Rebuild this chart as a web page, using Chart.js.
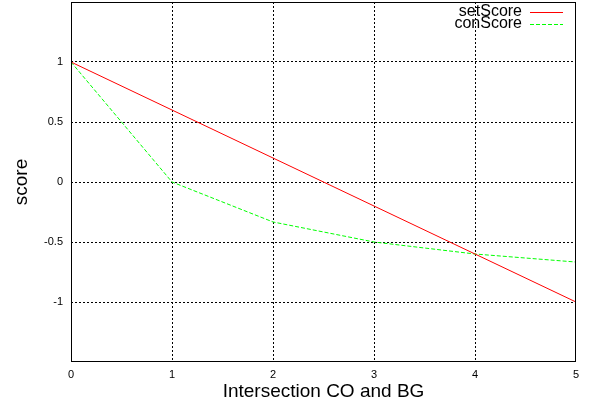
<!DOCTYPE html>
<html>
<head>
<meta charset="utf-8">
<script src="https://cdn.jsdelivr.net/npm/chart.js@4/dist/chart.umd.min.js"></script>
<style>
  html, body { margin: 0; padding: 0; background: #fff; }
  #wrap { width: 596px; height: 403px; position: relative; }
</style>
</head>
<body>
<div id="wrap"><canvas id="chart"></canvas></div>
<script>
const xValues = [0, 1, 2, 3, 4, 5];
const setScore = [1, 0.6, 0.2, -0.2, -0.6, -1];
const conScore = [1, 0, -0.333, -0.5, -0.6, -0.667];
const yTickLabels = ['-1', '-0.5', '0', '0.5', '1'];

const FONT = "'Liberation Sans', Arial, sans-serif";

const legendPlugin = {
  id: 'gnuLegend',
  afterDatasetsDraw(chart) {
    const ctx = chart.ctx;
    const area = chart.chartArea;
    ctx.save();
    ctx.font = '16px ' + FONT;
    ctx.textAlign = 'right';
    ctx.textBaseline = 'middle';
    chart.data.datasets.forEach((ds, i) => {
      const y = area.top + 10 + i * 12;
      ctx.fillStyle = '#000';
      ctx.fillText(ds.label, area.right - 54, y);
      ctx.strokeStyle = ds.borderColor;
      ctx.lineWidth = 1;
      ctx.setLineDash(ds.borderDash || []);
      ctx.beginPath();
      ctx.moveTo(area.right - 46, y + 0.5);
      ctx.lineTo(area.right - 13, y + 0.5);
      ctx.stroke();
    });
    ctx.restore();
  },
};

const framePlugin = {
  id: 'frame',
  afterDraw(chart) {
    const { ctx, chartArea: a } = chart;
    ctx.save();
    ctx.strokeStyle = '#000';
    ctx.lineWidth = 1;
    ctx.setLineDash([]);
    ctx.strokeRect(a.left + 0.5, a.top + 0.5, a.right - a.left - 1, a.bottom - a.top - 1);
    ctx.restore();
  },
};

const edgeHidden = (ctx, color) => {
  const v = ctx.tick ? ctx.tick.value : null;
  return v === -1.5 || v === 1.5 || v === 0 && ctx.scale.axis === 'x' || v === 5 ? 'rgba(0,0,0,0)' : color;
};

new Chart(document.getElementById('chart').getContext('2d'), {
  type: 'line',
  data: {
    labels: xValues,
    datasets: [
      {
        label: 'setScore',
        data: xValues.map((x, i) => ({ x, y: setScore[i] })),
        borderColor: '#ff0000',
        borderWidth: 1,
        pointRadius: 0,
        tension: 0,
        fill: false,
      },
      {
        label: 'conScore',
        data: xValues.map((x, i) => ({ x, y: conScore[i] })),
        borderColor: '#00ff00',
        borderWidth: 1,
        borderDash: [4, 2],
        pointRadius: 0,
        tension: 0,
        fill: false,
      },
    ],
  },
  options: {
    responsive: true,
    maintainAspectRatio: false,
    animation: false,
    layout: { padding: { top: 2, right: 20, left: 0, bottom: 0 } },
    plugins: {
      legend: { display: false },
      tooltip: { enabled: false },
    },
    scales: {
      x: {
        type: 'linear',
        min: 0,
        max: 5,
        ticks: {
          stepSize: 1,
          color: '#000',
          font: { family: FONT, size: 11 },
          padding: 6,
          maxRotation: 0,
        },
        grid: {
          color: (ctx) => edgeHidden(ctx, '#000'),
          lineWidth: 1,
          drawTicks: false,
        },
        border: { display: false, dash: [2, 2] },
        title: {
          display: true,
          text: 'Intersection CO and BG',
          color: '#000',
          font: { family: FONT, size: 19 },
          padding: { top: 0, bottom: 0 },
        },
        afterFit(scale) {
          scale.height = 41;
          scale.paddingLeft = 0;
          scale.paddingRight = 0;
        },
      },
      y: {
        min: -1.5,
        max: 1.5,
        ticks: {
          stepSize: 0.5,
          color: '#000',
          font: { family: FONT, size: 11 },
          padding: 8,
          callback: (v) => {
            const s = String(v);
            return yTickLabels.includes(s) ? s : '';
          },
        },
        grid: {
          color: (ctx) => edgeHidden(ctx, '#000'),
          lineWidth: 1,
          drawTicks: false,
        },
        border: { display: false, dash: [2, 2] },
        title: {
          display: true,
          text: 'score',
          color: '#000',
          font: { family: FONT, size: 19 },
          padding: { top: 10, bottom: 0 },
        },
        afterFit(scale) {
          scale.width = 71;
          scale.paddingTop = 0;
          scale.paddingBottom = 0;
        },
      },
    },
  },
  plugins: [legendPlugin, framePlugin],
});
</script>
</body>
</html>
